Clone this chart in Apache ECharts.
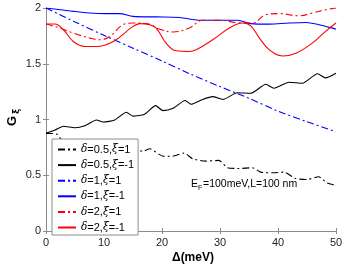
<!DOCTYPE html>
<html>
<head>
<meta charset="utf-8">
<script src="https://cdn.jsdelivr.net/npm/echarts@6/dist/echarts.min.js"></script>
<style>
  html, body { margin: 0; padding: 0; background: #fff; }
  #chart { width: 346px; height: 272px; }
</style>
</head>
<body>
<div id="chart"></div>
<script>
// curves, [Δ (meV), G]
const d05p = [[0,0.876],[1.8,0.87],[3,0.80],[4.5,0.79],[6.4,0.82],[8,0.78],[10,0.76],[12,0.745],[14.7,0.717],[16.7,0.717],[17.9,0.737],[20.2,0.67],[21.8,0.67],[23.8,0.70],[25.3,0.647],[27.5,0.627],[29.8,0.633],[31.3,0.567],[33.3,0.561],[35.6,0.567],[37,0.528],[39.1,0.522],[41,0.528],[43,0.471],[45,0.462],[47,0.486],[48.5,0.43],[50,0.408]]
const d05m = [[0,0.876],[1.55,0.905],[3,0.94],[5,0.926],[6.7,0.944],[8.7,0.995],[9.85,0.977],[11.85,0.995],[13.85,1.065],[15,1.03],[17,1.047],[18.9,1.124],[20.15,1.08],[21.9,1.10],[24,1.17],[25,1.137],[27,1.18],[28.75,1.205],[30.5,1.18],[33,1.24],[35.3,1.235],[37.9,1.316],[39.3,1.28],[41.9,1.334],[44.2,1.325],[46.8,1.41],[48.2,1.373],[50,1.415]]
const d1p = [[0,2],[5,1.875],[10,1.755],[15,1.64],[20,1.525],[25,1.405],[30,1.295],[35,1.19],[40,1.075],[45,0.98],[50,0.89]]
const d1m = [[0,2],[2.5,1.985],[4.7,1.97],[7.5,1.955],[10.4,1.95],[12.7,1.95],[15,1.925],[19,1.92],[23,1.915],[26.5,1.89],[29.9,1.89],[33,1.89],[35.3,1.86],[38.5,1.855],[41.9,1.865],[44.8,1.87],[47.1,1.85],[49.7,1.815],[50,1.81]]
const d2p = [[0,1.856],[2.4,1.82],[4.7,1.775],[7.6,1.73],[9.3,1.715],[11,1.745],[13.3,1.85],[15,1.865],[17.3,1.86],[19.6,1.81],[21.9,1.785],[24.7,1.82],[27,1.89],[29.9,1.89],[32.8,1.87],[35.6,1.865],[37.9,1.94],[40.2,1.95],[43.6,1.93],[45.9,1.955],[48.2,1.985],[50,2.0]]
const d2m = [[0,1.856],[1.5,1.856],[3,1.805],[4.7,1.70],[6.7,1.655],[8.7,1.655],[11.6,1.70],[15,1.835],[16.2,1.86],[17.9,1.85],[19,1.82],[20.7,1.685],[22.4,1.616],[24.7,1.61],[25.9,1.625],[28.75,1.715],[31.6,1.82],[33.9,1.865],[35.3,1.84],[36.8,1.73],[38.5,1.625],[40.8,1.57],[43.1,1.595],[45.9,1.685],[48.2,1.79],[50,1.865]]

const seriesNames = ['δ=0.5,ξ=1', 'δ=0.5,ξ=-1', 'δ=1,ξ=1', 'δ=1,ξ=-1', 'δ=2,ξ=1', 'δ=2,ξ=-1']
const xTicks = [0, 10, 20, 30, 40, 50]
const yTicks = [0, 0.5, 1, 1.5, 2]

const FONT = 'Liberation Sans'
const dashDot = [7, 3, 2, 3]

const makeLine = (name, data, color, dashed, smooth) => ({
  name: name,
  type: 'line',
  data: data,
  showSymbol: false,
  symbol: 'none',
  smooth: smooth,
  lineStyle: { color: color, width: 1.1, type: dashed ? dashDot : 'solid' },
  itemStyle: { color: color }
})

const axisCommon = {
  axisLine: { show: true, lineStyle: { color: '#8c8c8c', width: 1 } },
  axisTick: { show: true, inside: true, length: 3, lineStyle: { color: '#8c8c8c' } },
  splitLine: { show: false }
}

const chart = echarts.init(document.getElementById('chart'))
chart.setOption({
  animation: false,
  backgroundColor: '#fff',
  grid: { left: 46, right: 10, top: 8, bottom: 41 },
  legend: {
    orient: 'vertical',
    left: 52,
    top: 139,
    padding: [5, 4, 2, 5],
    itemWidth: 18,
    itemHeight: 10,
    itemGap: 4.6,
    backgroundColor: '#fff',
    borderColor: '#8c8c8c',
    borderWidth: 1,
    borderRadius: 0,
    selectedMode: false,
    itemStyle: { opacity: 0 },
    data: seriesNames,
    formatter: (n) => n.replace('δ', '{i|δ}').replace('ξ', '{i|ξ}'),
    textStyle: {
      fontFamily: FONT, fontSize: 11, color: '#000', lineHeight: 10,
      rich: { i: { fontStyle: 'italic', fontFamily: 'DejaVu Serif', fontSize: 10.5, color: '#000' } }
    }
  },
  xAxis: [
    Object.assign({
      type: 'value', min: 0, max: 50, interval: 10,
      axisLabel: { fontFamily: FONT, fontSize: 11, color: '#262626', margin: 6, formatter: (v) => xTicks.includes(v) ? String(v) : '' }
    }, axisCommon),
    Object.assign({
      type: 'value', min: 0, max: 50, interval: 10, position: 'top',
      axisLabel: { show: false }
    }, axisCommon)
  ],
  yAxis: [
    Object.assign({
      type: 'value', min: 0, max: 2, interval: 0.5,
      axisLabel: { fontFamily: FONT, fontSize: 11, color: '#262626', margin: 5, formatter: (v) => yTicks.includes(v) ? String(v) : '' }
    }, axisCommon),
    Object.assign({
      type: 'value', min: 0, max: 2, interval: 0.5, position: 'right',
      axisLabel: { show: false }
    }, axisCommon)
  ],
  graphic: [
    {
      type: 'text', left: 172, top: 252,
      style: { text: 'Δ(meV)', font: 'bold 12px "Liberation Sans"', fill: '#000' }
    },
    {
      type: 'text', x: 12, y: 126, rotation: Math.PI / 2,
      style: { text: 'G', font: 'bold 13px "Liberation Sans"', fill: '#000', align: 'left', verticalAlign: 'middle' }
    },
    {
      type: 'text', x: 17, y: 114, rotation: Math.PI / 2,
      style: { text: 'ξ', font: 'bold 9px "DejaVu Sans"', fill: '#000', align: 'left', verticalAlign: 'middle' }
    },
    {
      type: 'text', x: 191, y: 179,
      style: { text: 'E', font: '10.5px "Liberation Sans"', fill: '#000' }
    },
    {
      type: 'text', x: 198, y: 185,
      style: { text: 'F', font: '7px "Liberation Sans"', fill: '#000' }
    },
    {
      type: 'text', x: 203, y: 179,
      style: { text: '=100meV,L=100 nm', font: '10.5px "Liberation Sans"', fill: '#000' }
    }
  ],
  series: [
    makeLine(seriesNames[0], d05p, '#000000', true, 0.2),
    makeLine(seriesNames[1], d05m, '#000000', false, 0.2),
    makeLine(seriesNames[2], d1p, '#0000ff', true, 0.3),
    makeLine(seriesNames[3], d1m, '#0000ff', false, 0.3),
    makeLine(seriesNames[4], d2p, '#ff0000', true, 0.4),
    makeLine(seriesNames[5], d2m, '#ff0000', false, 0.4)
  ]
})
</script>
</body>
</html>
